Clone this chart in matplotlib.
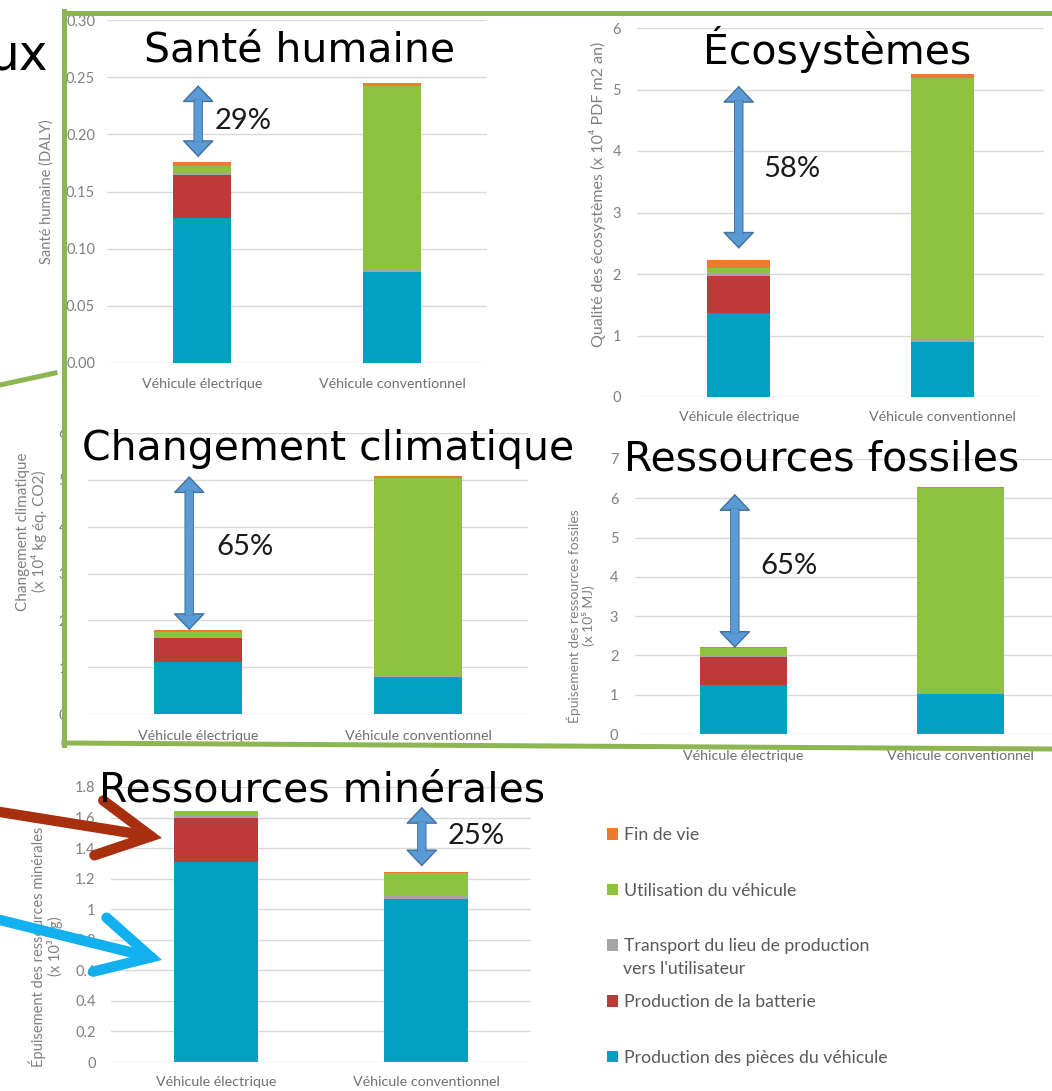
import matplotlib.pyplot as plt
import matplotlib.patheffects as pe
from matplotlib.lines import Line2D
import numpy as np

W, H = 1052, 1091
plt.rcParams['font.family'] = ['Lato', 'DejaVu Sans']

vehicules = ['Véhicule électrique', 'Véhicule conventionnel']
etapes = ['Production des pièces du véhicule', 'Production de la batterie',
          "Transport du lieu de production\nvers l'utilisateur",
          'Utilisation du véhicule', 'Fin de vie']
couleurs = ['#00a0c1', '#be3a3a', '#a5a5a5', '#8cc23f', '#ec7a2f']

# impacts in order: santé, écosystèmes, climat, fossiles, minérales
titres = ['Santé humaine', 'Écosystèmes', 'Changement climatique',
          'Ressources fossiles', 'Ressources minérales']
ylabels = ['Santé humaine (DALY)',
           'Qualité des écosystèmes (x 10⁴ PDF m2 an)',
           'Changement climatique\n(x 10⁴ kg éq. CO2)',
           'Épuisement des ressources fossiles\n(x 10⁵ MJ)',
           'Épuisement des ressources minérales\n(x 10³ kg)']
reductions = ['29%', '58%', '65%', '65%', '25%']
ymax = [0.30, 6, 6, 7, 1.8]
ystep = [0.05, 1, 1, 1, 0.2]

# one value per impact
elec_pieces = [0.127, 1.37, 1.11, 1.25, 1.31]
elec_batterie = [0.037, 0.60, 0.51, 0.71, 0.29]
elec_transport = [0.002, 0.05, 0.03, 0.02, 0.01]
elec_utilisation = [0.006, 0.08, 0.11, 0.21, 0.03]
elec_fin = [0.004, 0.12, 0.04, 0.03, 0.004]

conv_pieces = [0.080, 0.90, 0.79, 1.02, 1.07]
conv_batterie = [0, 0, 0, 0, 0]
conv_transport = [0.001, 0.03, 0.02, 0.03, 0.015]
conv_utilisation = [0.161, 4.25, 4.23, 5.21, 0.155]
conv_fin = [0.003, 0.07, 0.04, 0.02, 0.003]

# double arrow: bar index and (bottom, top) in data units
fleche_x = [-0.02, 0.0, -0.04, -0.04, 0.98]
fleche_y = [(0.180, 0.243), (2.41, 5.06), (1.79, 5.08), (2.19, 6.11), (1.28, 1.67)]

elec_series = [elec_pieces, elec_batterie, elec_transport, elec_utilisation, elec_fin]
conv_series = [conv_pieces, conv_batterie, conv_transport, conv_utilisation, conv_fin]

# layout, in pixels: (left, top, right, bottom) of each plot area
boites = [(107, 20, 487, 363), (637, 28, 1044, 397), (88, 433, 528, 714),
          (635, 459, 1069, 734), (111, 787, 531, 1062)]
largeurs = [0.31, 0.31, 0.40, 0.40, 0.40]
ytick_pad = [8.6, 11.5, 15, 12, 11]
xtick_pad = [10.5, 10, 11.5, 11.5, 10]
ylab_pos = [(-0.139, 0.5), (-0.076, 0.55), (-0.093, 0.65), (-0.092, 0.43), (-0.114, 0.42)]
ylab_size = [10.5, 11.5, 11, 10, 10.5]
titre_pos = [(299, 62, 29.5), (837, 64, 29.5), (328, 460, 29.5), (822, 470, 29.5), (322, 802, 29.5)]
pct_pos = [(215, 121), (763, 169), (216, 547), (760, 566), (448, 836)]


def px(x, y):
    return x / W, 1 - y / H


fig = plt.figure(figsize=(W / 100, H / 100), dpi=100)

axes = []
for k in range(5):
    x0, y0, x1, y1 = boites[k]
    ax = fig.add_axes([x0 / W, 1 - y1 / H, (x1 - x0) / W, (y1 - y0) / H])
    axes.append(ax)

    base = np.zeros(2)
    for s in range(5):
        vals = np.array([elec_series[s][k], conv_series[s][k]])
        # legend keeps one line per entry, the 2nd line of transport is added below
        ax.bar([0, 1], vals, largeurs[k], bottom=base, color=couleurs[s],
               label=etapes[s].split('\n')[0], zorder=2)
        base += vals

    ax.set_xlim(-0.5, 1.5)
    ax.set_ylim(0, ymax[k])
    ticks = np.arange(0, ymax[k] + ystep[k] / 2, ystep[k])
    ax.set_yticks(ticks)
    if k == 0:
        ax.set_yticklabels(['%.2f' % t for t in ticks])
    else:
        ax.set_yticklabels(['%g' % round(t, 2) for t in ticks])
    ax.set_xticks([0, 1], vehicules)
    ax.grid(axis='y', color='#d9d9d9', lw=1, zorder=0)
    ax.set_axisbelow(True)
    for sp in ax.spines.values():
        sp.set_visible(False)
    ax.tick_params(axis='y', length=0, pad=ytick_pad[k], labelsize=10.5, labelcolor='#808080')
    ax.tick_params(axis='x', length=0, pad=xtick_pad[k], labelsize=10.3, labelcolor='#707070')
    ax.set_ylabel(ylabels[k], fontsize=ylab_size[k], color='#808080', linespacing=1.1)
    ax.yaxis.set_label_coords(*ylab_pos[k])

    # double arrow between the two totals
    xa = fleche_x[k]
    yb, yt = fleche_y[k]
    ax.annotate('', xy=(xa, yt), xytext=(xa, yb),
                arrowprops=dict(arrowstyle='<|-|>,head_length=1.1,head_width=1.05',
                                mutation_scale=10, lw=1, facecolor='#5b9bd5',
                                edgecolor='#41719c', shrinkA=0, shrinkB=0),
                zorder=4)
    ax.annotate('', xy=(xa, yt), xytext=(xa, yb),
                arrowprops=dict(arrowstyle='-', lw=5.4, color='#5b9bd5',
                                shrinkA=10.5, shrinkB=10.5, capstyle='butt',
                                path_effects=[pe.Stroke(linewidth=6.8, foreground='#41719c'),
                                              pe.Normal()]),
                zorder=5)

    fig.text(*px(pct_pos[k][0], pct_pos[k][1]), reductions[k], fontsize=21,
             ha='left', va='center', color='#1a1a1a')
    tx, ty, ts = titre_pos[k]
    fig.text(*px(tx, ty), titres[k], fontsize=ts, family='DejaVu Sans',
             ha='center', va='baseline', color='black', zorder=6)

# pointers on the minerals chart
ax5 = axes[4]
ax5.annotate('', xy=(162, H - 838), xytext=(0, H - 812), xycoords='figure pixels',
             arrowprops=dict(arrowstyle='->,head_length=1.9,head_width=1.0',
                             mutation_scale=20, lw=7.5, color='#a8300f',
                             shrinkA=0, shrinkB=0, joinstyle='miter'),
             zorder=6)
ax5.annotate('', xy=(162, H - 960), xytext=(0, H - 920), xycoords='figure pixels',
             arrowprops=dict(arrowstyle='->,head_length=1.9,head_width=1.0',
                             mutation_scale=20, lw=7.5, color='#12b0ee',
                             shrinkA=0, shrinkB=0, joinstyle='miter'),
             zorder=6)

# legend
h, l = ax5.get_legend_handles_labels()
fig.legend(h[::-1], l[::-1], loc='upper left', bbox_to_anchor=px(607, 827),
           frameon=False, fontsize=12.7, labelspacing=2.25, handlelength=0.65,
           handleheight=0.65, handletextpad=0.3, borderpad=0, borderaxespad=0,
           labelcolor='#595959')
fig.text(*px(623, 969), etapes[2].split('\n')[1], fontsize=12.7, color='#595959',
         ha='left', va='center')

# green frame around the four upper charts
vert = '#8db653'
fig.add_artist(Line2D([64 / W, 1], [1 - 13 / H, 1 - 13 / H], color=vert, lw=3.6))
fig.add_artist(Line2D([64 / W, 64 / W], [1 - 11 / H, 1 - 745 / H], color=vert, lw=3.6))
fig.add_artist(Line2D([64 / W, 1], [1 - 743 / H, 1 - 749 / H], color=vert, lw=3.6))
fig.add_artist(Line2D([0, 55 / W], [1 - 385 / H, 1 - 373 / H], color=vert, lw=3.6))

# piece of the slide title
fig.text(*px(48, 69), 'ux', fontsize=35, family='DejaVu Sans', ha='right',
         va='baseline', color='black')

fig.savefig('out.png', dpi=100)
